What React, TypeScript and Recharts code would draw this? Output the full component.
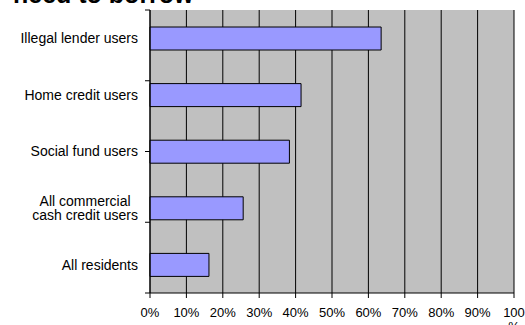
import React from "react";
import { BarChart, Bar, XAxis, YAxis, CartesianGrid } from "recharts";

const categories = [
  "Illegal lender users",
  "Home credit users",
  "Social fund users",
  "All commercial\ncash credit users",
  "All residents",
];
const shares = [0.635, 0.415, 0.383, 0.256, 0.162];
const xTicks = [0, 0.1, 0.2, 0.3, 0.4, 0.5, 0.6, 0.7, 0.8, 0.9, 1];
const boundaryTicks = [0, 1, 2, 3, 4, 5];

const data = categories.map((name, i) => ({ name, share: shares[i] }));

const FONT = "Arial, 'Liberation Sans', sans-serif";

let canvasCtx: CanvasRenderingContext2D | null = null;
function measure(text: string) {
  if (!canvasCtx) {
    canvasCtx = document.createElement("canvas").getContext("2d");
  }
  if (!canvasCtx) return text.length * 7;
  canvasCtx.font = "14px Arial, 'Liberation Sans', sans-serif";
  return canvasCtx.measureText(text).width;
}

function CategoryTick(props: any) {
  const { y, payload } = props;
  const lines = String(payload.value).split("\n");
  const right = 138;
  const widest = Math.max(...lines.map(measure));
  const cx = right - widest / 2;
  const lh = 14.5;
  const first = y - ((lines.length - 1) * lh) / 2;
  return (
    <text x={cx} y={first} textAnchor="middle" fontSize={14} fontFamily={FONT} fill="#000">
      {lines.map((l, i) => (
        <tspan key={i} x={cx} y={first + i * lh} dy="0.35em">
          {l}
        </tspan>
      ))}
    </text>
  );
}

function PercentTick(props: any) {
  const { x, y, payload } = props;
  const label = Math.round(payload.value * 100) + "%";
  // the last label wraps in the original
  const lines = payload.value === 1 ? ["100", "%"] : [label];
  return (
    <text x={x} y={y} textAnchor="middle" fontSize={13} fontFamily={FONT} fill="#000">
      {lines.map((l, i) => (
        <tspan key={i} x={x} y={y + 17 + i * 14}>
          {l}
        </tspan>
      ))}
    </text>
  );
}

const NoTick = () => <g />;

export default function App() {
  return (
    <div style={{ position: "absolute", left: 0, top: 0, width: 525, height: 325, background: "#fff" }}>
      <div
        style={{
          position: "absolute",
          left: 13,
          top: -18,
          fontFamily: FONT,
          fontWeight: "bold",
          fontSize: 25,
          lineHeight: "25px",
          whiteSpace: "nowrap",
        }}
      >
        need to borrow
      </div>
      <BarChart
        width={525}
        height={325}
        data={data}
        layout="vertical"
        margin={{ top: 10, right: 11, bottom: 2, left: 0 }}
        style={{ position: "absolute", left: 0, top: 0 }}
      >
        <CartesianGrid
          xAxisId="bottom"
          yAxisId="cat"
          horizontal={false}
          fill="#c0c0c0"
          stroke="#000"
          strokeWidth={1}
        />
        <XAxis
          type="number"
          xAxisId="bottom"
          domain={[0, 1]}
          ticks={xTicks}
          interval={0}
          height={30}
          tick={<PercentTick />}
          tickSize={5}
          tickLine={{ stroke: "#000" }}
          axisLine={{ stroke: "#000" }}
        />
        <XAxis
          type="number"
          xAxisId="top"
          orientation="top"
          domain={[0, 1]}
          height={0}
          tick={false}
          tickLine={false}
          axisLine={{ stroke: "#000" }}
        />
        <YAxis
          yAxisId="bounds"
          type="number"
          domain={[0, 5]}
          ticks={boundaryTicks}
          interval={0}
          reversed
          width={5}
          tick={<NoTick />}
          tickSize={5}
          tickLine={{ stroke: "#000" }}
          axisLine={{ stroke: "#000" }}
        />
        <YAxis
          yAxisId="cat"
          type="category"
          dataKey="name"
          width={145}
          interval={0}
          tick={<CategoryTick />}
          tickLine={false}
          axisLine={false}
        />
        <Bar
          dataKey="share"
          xAxisId="bottom"
          yAxisId="cat"
          barSize={23}
          fill="#9999ff"
          stroke="#000"
          strokeWidth={1}
          isAnimationActive={false}
        />
      </BarChart>
    </div>
  );
}
